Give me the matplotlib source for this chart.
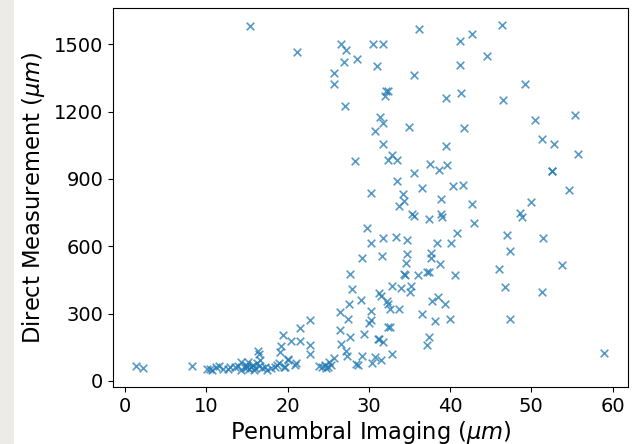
import matplotlib
matplotlib.use("Agg")
import matplotlib.pyplot as plt
from matplotlib.patches import Rectangle

# Penumbral imaging size vs. direct measurement (both in micrometres)
penumbral_upper = [15.4, 21.2, 26.6, 27.2, 30.5, 31.7, 36.2, 41.2, 42.7, 46.4,
                   26.9, 28.5, 25.7, 25.7, 31.0, 35.6, 41.2, 44.5, 49.2, 27.0,
                   32.1, 32.3, 32.0, 39.5, 41.4, 46.5, 31.4, 31.8, 30.8, 34.9,
                   41.7, 50.5, 55.4, 31.7, 39.5, 51.3, 52.8, 55.7]
direct_upper = [1581, 1466, 1500, 1476, 1501, 1501, 1569, 1513, 1546, 1586,
                1421, 1436, 1374, 1325, 1402, 1363, 1410, 1448, 1322, 1225,
                1293, 1294, 1272, 1263, 1281, 1251, 1177, 1150, 1114, 1132,
                1125, 1161, 1184, 1055, 1049, 1077, 1055, 1012]

penumbral_mid = [28.3, 32.3, 32.9, 33.5, 37.5, 38.6, 39.6, 52.5, 52.6, 35.6,
                 33.5, 30.3, 34.2, 36.6, 40.3, 41.6, 54.6, 38.9, 34.3, 33.7,
                 42.7, 49.9, 35.3, 35.6, 38.9, 39.0, 48.6, 48.9, 37.4, 42.9,
                 29.8, 30.3, 31.8, 33.4, 34.7, 38.4, 40.1, 40.8, 47.0, 51.4]
direct_mid = [982, 984, 1009, 984, 969, 942, 963, 937, 934, 926,
              893, 838, 835, 858, 868, 874, 849, 810, 800, 780,
              788, 798, 742, 736, 746, 729, 750, 729, 722, 706,
              681, 614, 638, 642, 630, 614, 613, 659, 651, 636]

penumbral_low = [47.4, 29.2, 31.6, 34.7, 34.6, 37.6, 37.7, 38.7, 53.8, 27.7,
                 34.3, 34.4, 36.0, 37.1, 37.4, 40.6, 46.0, 27.9, 32.8, 33.9,
                 35.2, 35.1, 46.8, 51.3, 31.3, 31.5, 29.0, 32.2, 32.4, 32.6,
                 33.7, 37.8, 38.5, 39.4, 26.4, 27.6, 27.4, 30.3, 30.2, 30.0,
                 36.5, 40.0, 38.1, 47.4, 22.8, 21.5, 32.4, 32.6, 26.4, 29.4,
                 27.7, 31.1, 31.3, 31.7, 37.4, 37.1, 26.6, 27.2, 27.3, 32.8,
                 29.1, 30.7, 31.5, 30.4, 28.4, 28.6, 25.7, 25.1, 25.3, 24.7,
                 23.9, 24.2, 24.6, 25.0, 21.5, 20.4, 22.8, 22.8, 20.1, 21.0,
                 20.9, 19.7, 19.4, 19.2, 19.0, 16.4, 16.5, 59.0]
direct_low = [577, 548, 556, 565, 524, 570, 550, 521, 516, 478,
              475, 470, 473, 486, 484, 470, 498, 408, 423, 414,
              422, 398, 420, 396, 393, 378, 361, 356, 345, 320,
              322, 357, 374, 344, 306, 341, 276, 312, 270, 258,
              300, 278, 267, 277, 270, 237, 241, 240, 225, 211,
              198, 189, 186, 175, 194, 161, 163, 135, 110, 122,
              111, 107, 94, 79, 74, 71, 101, 84, 70, 56,
              66, 61, 71, 61, 178, 180, 162, 118, 98, 79,
              71, 64, 206, 155, 130, 133, 118, 126]

penumbral_floor = [1.3, 2.2, 8.2, 10.1, 10.4, 10.7, 11.2, 11.6, 12.1, 12.7,
                   13.5, 13.9, 14.3, 14.9, 14.7, 15.3, 15.7, 15.1, 16.0, 16.2,
                   16.6, 16.8, 17.2, 18.0, 18.4, 18.7, 19.6, 20.1, 15.5, 15.8,
                   14.2, 17.5, 18.9, 15.0, 12.9, 16.5]
direct_floor = [68, 56, 68, 53, 53, 50, 64, 67, 53, 52,
                64, 68, 86, 71, 56, 52, 71, 86, 56, 78,
                93, 56, 64, 56, 64, 71, 64, 93, 60, 48,
                50, 50, 80, 62, 60, 66]

x = penumbral_upper + penumbral_mid + penumbral_low + penumbral_floor
y = direct_upper + direct_mid + direct_low + direct_floor

fig = plt.figure(figsize=(6.36, 4.44), dpi=100)
fig.patches.append(Rectangle((0, 0), 14 / 636, 1, transform=fig.transFigure,
                             facecolor="#edebe7", edgecolor="none", zorder=0))
ax = fig.add_axes([113 / 636, 57 / 444, 515 / 636, 379 / 444])

ax.scatter(x, y, marker="x", color="tab:blue", alpha=0.75, s=30, linewidths=1.2)

ax.set_xlim(-1.5, 61.9)
ax.set_ylim(-27, 1662)
ax.set_xticks([0, 10, 20, 30, 40, 50, 60])
ax.set_yticks([0, 300, 600, 900, 1200, 1500])
ax.tick_params(labelsize=14)
ax.set_xlabel(r"Penumbral Imaging ($\mu m$)", fontsize=16.3, labelpad=2)
ax.set_ylabel(r"Direct Measurement ($\mu m$)", fontsize=16.3, labelpad=5)

fig.savefig("out.png", dpi=100)
